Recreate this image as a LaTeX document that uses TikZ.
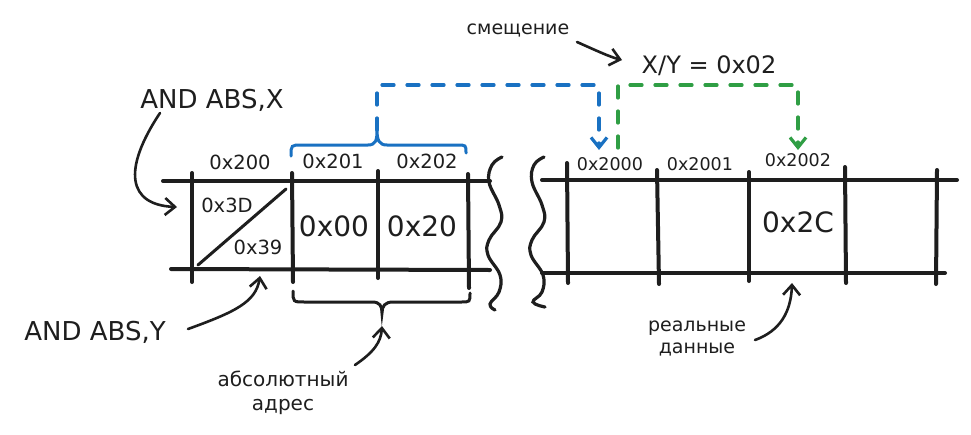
\documentclass[tikz,border=0pt]{standalone}
\usepackage{fontspec}
\setmainfont{DejaVu Sans}
\usetikzlibrary{arrows.meta}
\definecolor{exblue}{HTML}{1971C2}
\definecolor{exgreen}{HTML}{2F9E44}
\definecolor{ink}{HTML}{1E1E1E}
\tikzset{
  cell/.style={draw=ink, line width=4pt, line cap=round},
  pointer/.style={draw=ink, line width=2.6pt, line cap=round, -{Straight Barb[length=10pt,width=17pt,line width=2.6pt]}},
  brace/.style={line width=3pt, line cap=round},
  offs/.style={line width=3.2pt, line cap=round, dash pattern=on 12pt off 13pt, -{Straight Barb[length=10pt,width=16pt,line width=3.2pt]}},
  lbl/.style={text=ink, inner sep=0pt, font=\fontsize{19.5}{22}\selectfont},
  big/.style={text=ink, inner sep=0pt, font=\fontsize{28}{32}\selectfont},
  huge/.style={text=ink, inner sep=0pt, font=\fontsize{26}{30}\selectfont},
  note/.style={text=ink, inner sep=0pt, font=\fontsize{20}{24}\selectfont, align=center},
}
\begin{document}
\begin{tikzpicture}[x=1pt,y=-1pt]
\useasboundingbox[fill=white] (0,0) rectangle (971,434);

% ---------- left array ----------
\draw[cell] (163,181) -- (490,181);
\draw[cell] (171,269) -- (490,270);
\draw[cell] (192,173) -- (192,282);
\draw[cell] (292,173) -- (293,282);
\draw[cell] (378,171) -- (378,278);
\draw[cell] (468,174) -- (469,288);
\draw[draw=ink, line width=3pt, line cap=round] (286,189) -- (198,265);

\node[lbl] (a200) at (240,162) {0x200};
\node[lbl] (a201) at (333,161) {0x201};
\node[lbl] (a202) at (427,161) {0x202};
\node[lbl] (v3d) at (227,205) {0x3D};
\node[lbl] (v39) at (258,247) {0x39};
\node[big] (v00) at (334,226) {0x00};
\node[big] (v20) at (422,226) {0x20};

% ---------- wavy breaks ----------
\draw[draw=ink, line width=3.2pt, line cap=round] plot[smooth, tension=0.7] coordinates
  {(502,157) (492,165) (489,182) (499,205) (501,222) (489,240) (488,255) (500,275) (499,292) (490,304) (495,310)};
\draw[draw=ink, line width=3.2pt, line cap=round] plot[smooth, tension=0.7] coordinates
  {(544,157) (534,165) (532,182) (542,205) (544,222) (532,240) (531,255) (543,275) (542,292) (533,302) (545,307)};

% ---------- right array ----------
\draw[cell] (542,180) -- (957,180);
\draw[cell] (542,273) -- (945,273);
\draw[cell] (567,163) -- (568,283);
\draw[cell] (657,170) -- (659,284);
\draw[cell] (749,172) -- (749,281);
\draw[cell] (845,167) -- (846,283);
\draw[cell] (937,170) -- (936,284);

\node[lbl, font=\fontsize{17.5}{20}\selectfont] (b2000) at (610,164) {0x2000};
\node[lbl, font=\fontsize{17.5}{20}\selectfont] (b2001) at (700,164) {0x2001};
\node[lbl, font=\fontsize{17.5}{20}\selectfont] (b2002) at (798,160) {0x2002};
\node[big] (v2c) at (798,222) {0x2C};

% ---------- blue brace and offset arrows ----------
\coordinate (bcusp) at (377,130);
\draw[brace, draw=exblue] (291,156) .. controls (291,145) .. (302,145) -- (368,145)
  .. controls (376,145) and (377,140) .. (bcusp)
  .. controls (377,140) and (379,145) .. (387,145) -- (457,145)
  .. controls (466,145) .. (466,153);
\coordinate (bturn1) at (377,85);
\coordinate (bturn2) at (599,85);
\coordinate (btip) at (599,150);
\draw[offs, draw=exblue] (bcusp) -- (bturn1) -- (bturn2) -- (btip);

\coordinate (gstart) at (618,148);
\coordinate (gturn1) at (618,85);
\coordinate (gturn2) at (798,85);
\coordinate (gtip) at (798,150);
\draw[offs, draw=exgreen] (gstart) -- (gturn1) -- (gturn2) -- (gtip);

\node[note, font=\fontsize{24}{28}\selectfont] (xy) at (709,66) {X/Y = 0x02};
\node[note, font=\fontsize{19}{22}\selectfont] (smesh) at (518,30) {смещение};
\coordinate (s1) at (577,42);
\coordinate (s2) at (622,60);
\draw[pointer] (s1) .. controls (595,50) and (610,57) .. (s2);

% ---------- black brace ----------
\coordinate (kcusp) at (382,313);
\draw[brace, draw=ink] (293,291) .. controls (293,302) .. (305,302) -- (372,302)
  .. controls (380,302) and (382,306) .. (kcusp)
  .. controls (382,306) and (385,302) .. (393,302) -- (461,302)
  .. controls (470,302) .. (470,293);

% ---------- labels with pointers ----------
\node[huge] (andx) at (212,100) {AND ABS,X};
\coordinate (x1) at (160,113);
\coordinate (x2) at (177,207);
\draw[pointer] (x1) .. controls (122,170) and (128,205) .. (x2);

\node[huge] (andy) at (95,332) {AND ABS,Y};
\coordinate (y1) at (188,329);
\coordinate (y2) at (260,276);
\draw[pointer] (y1) .. controls (235,312) and (256,302) .. (y2);

\node[note] (abs) at (283,393) {абсолютный\\[0pt]адрес};
\coordinate (a1) at (355,365);
\coordinate (a2) at (382,326);
\draw[pointer] (a1) .. controls (374,352) and (381,342) .. (a2);

\node[note, font=\fontsize{19}{22}\selectfont] (real) at (697,338) {реальные\\[0pt]данные};
\coordinate (r1) at (755,340);
\coordinate (r2) at (792,283);
\draw[pointer] (r1) .. controls (780,331) and (791,312) .. (r2);
\end{tikzpicture}
\end{document}
